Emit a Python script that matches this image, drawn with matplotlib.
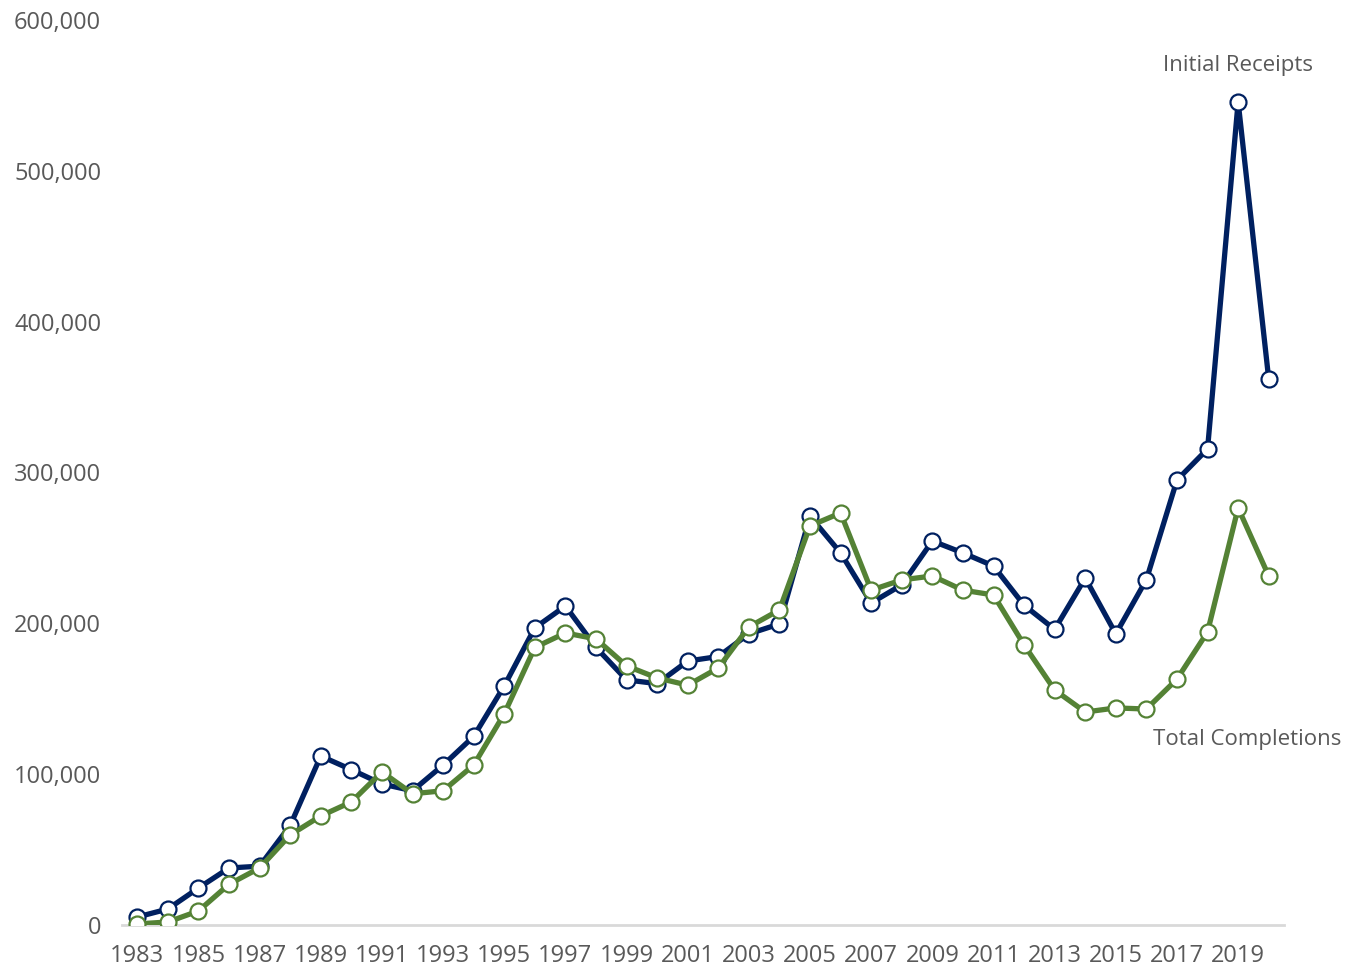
import matplotlib.pyplot as plt
import numpy as np

years = list(range(1983, 2021))
initial_receipts = [5300, 10600, 24500, 37800, 39000, 66000, 112000, 103000, 93500, 89000,
                    106000, 125000, 158500, 197000, 211500, 184000, 162500, 160000, 175000, 178000,
                    193000, 199600, 271000, 246700, 213500, 225500, 254600, 246700, 238000, 212000,
                    196000, 230000, 193000, 229000, 295000, 315600, 545800, 362000]
total_completions = [700, 2000, 9300, 27000, 37800, 59700, 72300, 81600, 101500, 87000,
                     89000, 106000, 140000, 184000, 193600, 189700, 171800, 163800, 159000, 170400,
                     197600, 208900, 264600, 273200, 222000, 228800, 231400, 222000, 218800, 185700,
                     155800, 141200, 143900, 143200, 163000, 194300, 276500, 231400]

navy = '#002060'
green = '#548235'
grey = '#595959'

plt.rcParams['font.family'] = ['Open Sans', 'DejaVu Sans']

fig = plt.figure(figsize=(13.51, 9.68), dpi=100)
ax = fig.add_axes([122/1351, 43/968, (1284-122)/1351, (925-20)/968])

ax.plot(years, initial_receipts, color=navy, lw=3.8, marker='o', ms=11.5,
        mfc='white', mec=navy, mew=1.6, zorder=3)
ax.plot(years, total_completions, color=green, lw=3.8, marker='o', ms=11.5,
        mfc='white', mec=green, mew=1.6, zorder=4)

ax.set_xlim(1982.5, 2020.5)
ax.set_ylim(0, 600000)
ax.set_yticks(np.arange(0, 600001, 100000))
ax.set_yticklabels([f'{v:,}' for v in range(0, 600001, 100000)])
ax.set_xticks(years[::2])
ax.set_xticklabels([str(y) for y in years[::2]])

for s in ['top', 'right', 'left']:
    ax.spines[s].set_visible(False)
ax.spines['bottom'].set_color('#d9d9d9')
ax.spines['bottom'].set_linewidth(2)
ax.tick_params(axis='both', length=0, labelsize=17, labelcolor=grey)
ax.tick_params(axis='y', pad=15)
ax.tick_params(axis='x', pad=14)

ax.text(2019, 570000, 'Initial Receipts', color=grey, fontsize=16, ha='center', va='center')
ax.text(2019.3, 123000, 'Total Completions', color=grey, fontsize=16, ha='center', va='center')

fig.savefig('out.png', dpi=100)
